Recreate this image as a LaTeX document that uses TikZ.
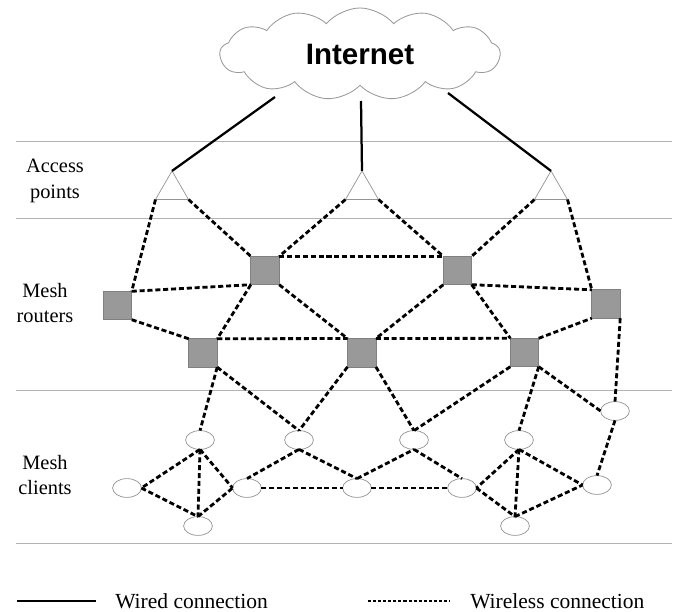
\documentclass[tikz,border=0pt]{standalone}
\usepackage{fontspec}
\setmainfont{Liberation Serif}
\newfontfamily\netfont{Liberation Sans}
\usetikzlibrary{shapes.geometric, shapes.symbols, positioning}

\begin{document}
\begin{tikzpicture}[x=0.025cm, y=-0.025cm,
  wired/.style={line width=1.6pt},
  wireless/.style={line width=2pt, dash pattern=on 3.6pt off 2pt},
  layer/.style={gray!60, line width=0.6pt},
  ap/.style={regular polygon, regular polygon sides=3, draw=gray!85, line width=0.5pt, minimum size=0.953cm, inner sep=0pt, outer sep=0pt},
  router/.style={rectangle, fill=black!40, draw=black!50, line width=0.5pt, minimum size=0.71cm, inner sep=0pt, outer sep=0pt},
  client/.style={ellipse, draw=gray!85, line width=0.5pt, minimum width=0.72cm, minimum height=0.47cm, inner sep=0pt, outer sep=0pt},
  lbl/.style={align=center, font=\fontsize{14.5}{18}\selectfont}]
  \useasboundingbox (0,0) rectangle (675,611);

  % layers
  \foreach \ly in {141,218,390,543}
    \draw[layer] (16,\ly) -- (672,\ly);
  \node[lbl] (lap) at (55,181) {Access\\points};
  \node[lbl] (lmr) at (45,303) {Mesh\\routers};
  \node[lbl] (lmc) at (45,475) {Mesh\\clients};

  % internet
  \node[cloud, draw=gray!80, line width=0.6pt, cloud puffs=13, cloud puff arc=100, aspect=3.2,
    minimum width=7cm, minimum height=2.3cm, inner sep=0pt,
    font=\netfont\bfseries\fontsize{21}{25}\selectfont] (inet) at (360,54) {Internet};
  \coordinate (w1) at (275,97);
  \coordinate (w2) at (361,101);
  \coordinate (w3) at (448,93);

  % access points
  \node[ap] (ap1) at (172,190) {};
  \node[ap] (ap2) at (362,190) {};
  \node[ap] (ap3) at (551,190) {};

  % routers
  \node[router] (rl) at (117.5,305.5) {};
  \node[router] (r2) at (265,270.5) {};
  \node[router] (r3) at (203,353) {};
  \node[router] (r4) at (457.5,270.5) {};
  \node[router] (r5) at (361.7,352.7) {};
  \node[router] (r6) at (524.5,352.5) {};
  \node[router] (rr) at (606,304) {};

  % clients
  \node[client] (c1) at (200,440) {};
  \node[client] (c2) at (299,440) {};
  \node[client] (cl) at (127,488) {};
  \node[client] (c3) at (247,488) {};
  \node[client] (c4) at (357,488) {};
  \node[client] (cb1) at (198,526) {};
  \node[client] (c5) at (414,440) {};
  \node[client] (c6) at (519,440) {};
  \node[client] (c7) at (615,411) {};
  \node[client] (c8) at (462,488) {};
  \node[client] (c9) at (597,485) {};
  \node[client] (cb2) at (515,526) {};

  % wired links
  \draw[wired] (w1) -- (ap1.corner 1);
  \draw[wired] (w2) -- (ap2.corner 1);
  \draw[wired] (w3) -- (ap3.corner 1);

  % wireless links, backbone
  \draw[wireless] (ap1.corner 2) -- (rl.north east);
  \draw[wireless] (ap1.corner 3) -- (r2.north west);
  \draw[wireless] (ap2.corner 2) -- (r2.north east);
  \draw[wireless] (ap2.corner 3) -- (r4.north west);
  \draw[wireless] (ap3.corner 2) -- (r4.north east);
  \draw[wireless] (ap3.corner 3) -- (rr.north west);
  \draw[wireless] (r2.north east) -- (r4.north west);
  \draw[wireless] (rl.north east) -- (r2.south west);
  \draw[wireless] (rl.south east) -- (r3.north west);
  \draw[wireless] (r2.south west) -- (r3.north east);
  \draw[wireless] (r2.south east) -- (r5.north west);
  \draw[wireless] (r3.north east) -- (r5.north west);
  \draw[wireless] (r5.north east) -- (r6.north west);
  \draw[wireless] (r4.south west) -- (r5.north east);
  \draw[wireless] (r4.south east) -- (r6.north west);
  \draw[wireless] (r4.south east) -- (rr.north west);
  \draw[wireless] (r6.north east) -- (rr.south west);

  % routers to clients
  \draw[wireless] (r3.south east) -- (c1.north);
  \draw[wireless] (r3.south east) -- (c2.north);
  \draw[wireless] (r5.south west) -- (c2.north);
  \draw[wireless] (r5.south east) -- (c5.north);
  \draw[wireless] (r6.south west) -- (c5.north);
  \draw[wireless] (r6.south east) -- (c6.north);
  \draw[wireless] (r6.south east) -- (c7.west);
  \draw[wireless] (rr.south east) -- (c7.north);

  % clients
  \draw[wireless] (c1.south) -- (cl.east);
  \draw[wireless] (c1.south) -- (cb1.north);
  \draw[wireless] (c1.south) -- (c3.west);
  \draw[wireless] (cl.east) -- (cb1.north);
  \draw[wireless] (cb1.north) -- (c3.west);
  \draw[wireless] (c2.south) -- (c3.north);
  \draw[wireless] (c2.south) -- (c4.north);
  \draw[wireless] (c3.east) -- (c4.west);
  \draw[wireless] (c4.east) -- (c8.west);
  \draw[wireless] (c4.north) -- (c5.south);
  \draw[wireless] (c5.south) -- (c8.north);
  \draw[wireless] (c6.south) -- (c8.east);
  \draw[wireless] (c6.south) -- (cb2.north);
  \draw[wireless] (c6.south) -- (c9.west);
  \draw[wireless] (c8.east) -- (cb2.north);
  \draw[wireless] (cb2.north) -- (c9.west);
  \draw[wireless] (c7.south) -- (c9.north);

  % legend
  \coordinate (lg1) at (17,601);
  \coordinate (lg2) at (96,601);
  \coordinate (lg3) at (368,601);
  \coordinate (lg4) at (450,601);
  \draw[wired] (lg1) -- (lg2);
  \draw[line width=1.4pt, dash pattern=on 2.2pt off 1.4pt] (lg3) -- (lg4);
  \node[lbl, anchor=west, inner sep=0pt, font=\fontsize{15.3}{18}\selectfont] (twired) at (115,601) {Wired connection};
  \node[lbl, anchor=west, inner sep=0pt, font=\fontsize{15.3}{18}\selectfont] (twless) at (470,601) {Wireless connection};
\end{tikzpicture}
\end{document}
